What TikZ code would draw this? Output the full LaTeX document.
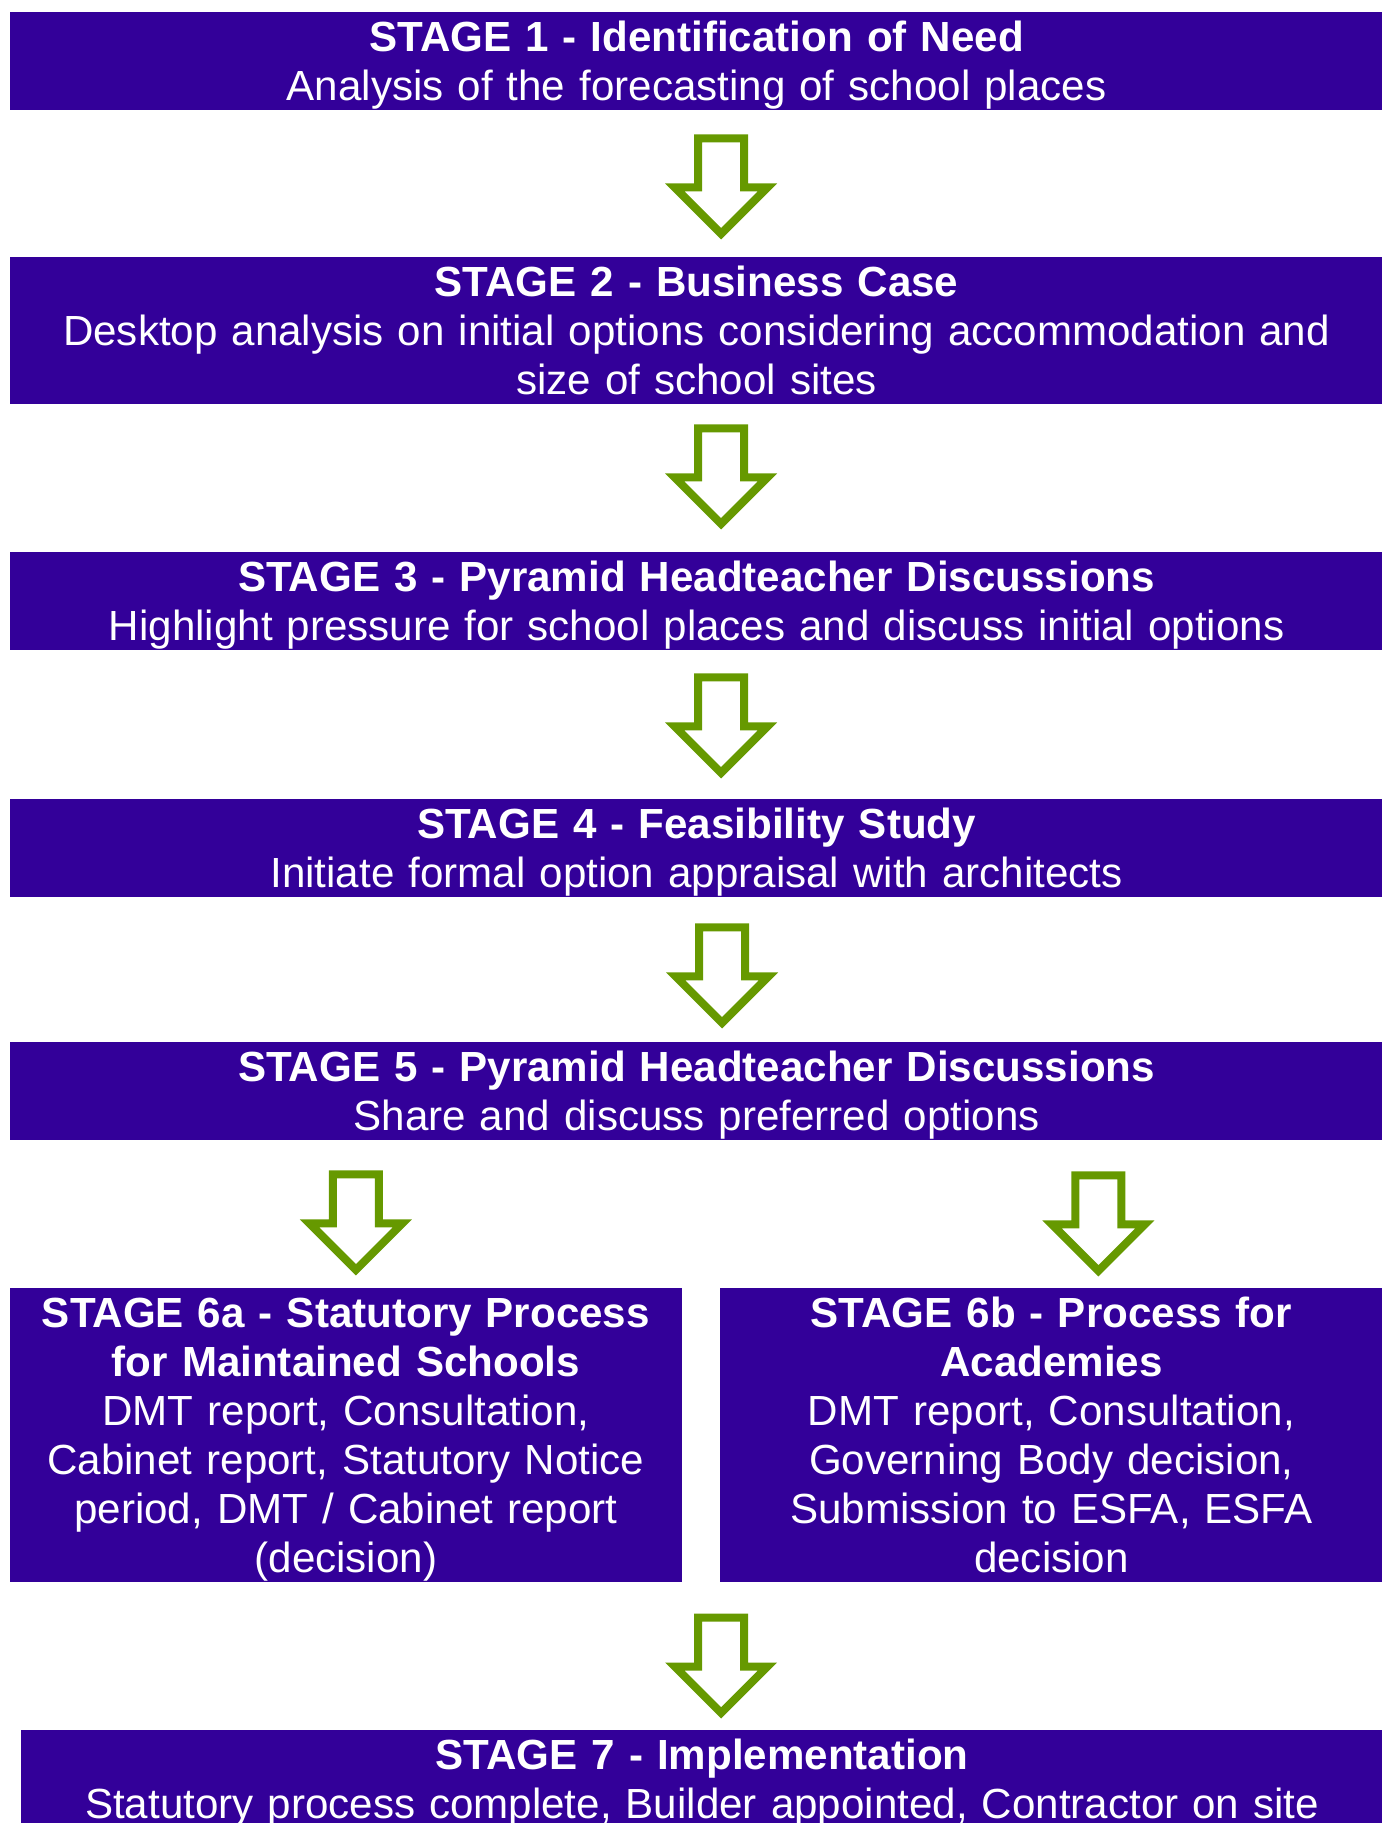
\documentclass[tikz,border=0pt]{standalone}
\usepackage{fontspec}
\setmainfont{Liberation Sans}
\usepackage{tikz}
\usetikzlibrary{calc}

\definecolor{stagepurple}{RGB}{51,0,153}
\definecolor{arrowgreen}{RGB}{102,153,0}
\newcommand{\stagestrut}{\rule[-2.67pt]{0pt}{13.94pt}}

\tikzset{
  stage/.style={fill=stagepurple, text=white, anchor=north west, align=center,
    inner sep=0pt, font=\fontsize{11.98}{13.94}\selectfont},
  blockarrow/.pic={
    \draw[arrowgreen, line width=0.08cm, fill=white]
      (-23,4) -- (23,4) -- (23,53) -- (46.3,53) -- (0,99.3)
      -- (-46.3,53) -- (-23,53) -- cycle;
  }
}

\begin{document}
\begin{tikzpicture}[x=0.01cm, y=-0.01cm]
\useasboundingbox (0,0) rectangle (1382,1823);

% Stages 1 to 5
\node[stage, text width=13.73cm] (s1) at (9,11)
  {\textbf{\stagestrut STAGE 1 - Identification of Need}\\
   Analysis of the forecasting of school places\stagestrut};
\node[stage, text width=13.73cm] (s2) at (9,256)
  {\textbf{\stagestrut STAGE 2 - Business Case}\\
   Desktop analysis on initial options considering accommodation and\\
   size of school sites\stagestrut};
\node[stage, text width=13.73cm] (s3) at (9,551)
  {\textbf{\stagestrut STAGE 3 - Pyramid Headteacher Discussions}\\
   Highlight pressure for school places and discuss initial options\stagestrut};
\node[stage, text width=13.73cm] (s4) at (9,798)
  {\textbf{\stagestrut STAGE 4 - Feasibility Study}\\
   Initiate formal option appraisal with architects\stagestrut};
\node[stage, text width=13.73cm] (s5) at (9,1041)
  {\textbf{\stagestrut STAGE 5 - Pyramid Headteacher Discussions}\\
   Share and discuss preferred options\stagestrut};

% Stage 6 split
\node[stage, text width=6.72cm] (s6a) at (9,1287)
  {\textbf{\stagestrut STAGE 6a - Statutory Process}\\
   \textbf{for Maintained Schools}\\
   DMT report, Consultation,\\
   Cabinet report, Statutory Notice\\
   period, DMT / Cabinet report\\
   (decision)\stagestrut};
\node[stage, text width=6.63cm] (s6b) at (719,1287)
  {\textbf{\stagestrut STAGE 6b - Process for}\\
   \textbf{Academies}\\
   DMT report, Consultation,\\
   Governing Body decision,\\
   Submission to ESFA, ESFA\\
   decision\stagestrut};

% Stage 7
\node[stage, text width=13.62cm] (s7) at (20,1729)
  {\textbf{\stagestrut STAGE 7 - Implementation}\\
   Statutory process complete, Builder appointed, Contractor on site\stagestrut};

% Arrows down the middle
\foreach \n/\dx/\dy in {s1/24.5/24, s2/24.5/20, s3/24.5/23, s4/25.5/26}
  \pic at ($(\n.south)+(\dx,\dy)$) {blockarrow};

% Arrows into 6a and 6b
\pic at ($(s5.south -| s6a.north)+(10,30)$) {blockarrow};
\pic at ($(s5.south -| s6b.north)+(47,31)$) {blockarrow};

% Arrow into stage 7
\pic at ($(s6a.south -| s1.south)+(24.5,31)$) {blockarrow};
\end{tikzpicture}
\end{document}
